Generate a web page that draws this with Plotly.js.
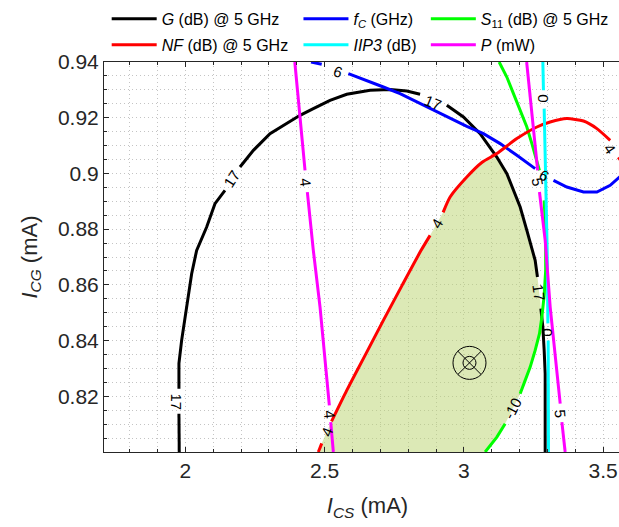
<!DOCTYPE html>
<html><head><meta charset="utf-8">
<script src="https://cdn.plot.ly/plotly-3.0.1.min.js"></script>
<style>html,body{margin:0;padding:0;overflow:hidden;background:#fff}</style>
</head><body><div id="chart" style="width:640px;height:527px"></div>
<script>
// Contour traces (x = I_CS mA, y = I_CG mA); null = gap for inline label
const gX = [1.9777,1.9766,null,1.9766,1.9766,1.9863,2.0043,2.0223,2.0402,2.0762,2.1060,2.1419,null,2.1958,2.2440,2.3036,2.3636,2.4114,2.4592,2.5192,2.5792,2.6630,2.7348,2.7948,2.8426,null,2.9386,2.9982,3.0582,3.1182,3.1542,3.1779,3.2020,3.2260,3.2440,3.2558,3.2641,null,3.2763,3.2835,3.2882,3.2918,3.2918];
const gY = [0.80,0.81375,null,0.82273,0.83181,0.84007,0.85203,0.86402,0.87239,0.88075,0.88916,0.89393,null,0.9023,0.90829,0.91429,0.91788,0.92086,0.92327,0.92625,0.9284,0.92984,0.93009,0.92959,0.9284,null,0.92445,0.92025,0.91429,0.90589,0.89993,0.89393,0.88793,0.87957,0.87239,0.8688,0.8628,null,0.85145,0.84485,0.83648,0.82811,0.80];

const fcX = [2.4510,2.4894,null,2.5850,2.6511,2.7107,2.7707,2.8308,2.8904,2.9504,3.0104,3.0701,3.1301,3.1901,3.2558,null,3.3216,3.3697,3.4294,3.4775,3.5253,3.5577,3.5972];
const fcY = [0.94,0.93917,null,0.93583,0.93343,0.93102,0.92865,0.92564,0.92266,0.91968,0.91691,0.91429,0.9107,0.9065,0.90172,null,0.89752,0.89512,0.89332,0.89332,0.89573,0.89871,0.90219];

const s11X = [3.1265,3.1541,3.1779,3.2019,3.2260,3.2440,3.2620,3.2713,null,3.2882,3.2936,3.2936,3.2882,3.2799,3.2713,3.2558,3.2379,3.2199,3.2019,null,3.1480,3.1182,3.0762];
const s11Y = [0.94,0.93461,0.92865,0.92266,0.91666,0.9107,0.9047,0.90111,null,0.89034,0.87957,0.8652,0.85623,0.84844,0.84248,0.83648,0.83048,0.82571,0.82093,null,0.81016,0.80535,0.80];

const nfX = [2.4772,2.4894,null,2.5246,2.5792,2.6450,2.7107,2.7779,2.8462,2.8785,null,2.9253,2.9504,3.0104,3.0654,3.1182,3.1901,3.2620,3.3097,3.3697,3.4294,3.4775,3.5253,null,3.5541,3.5972];
const nfY = [0.80,0.80309,null,0.81099,0.82212,0.83468,0.84725,0.85982,0.87239,0.87777,null,0.88603,0.89153,0.89871,0.90399,0.90711,0.9125,0.91666,0.91846,0.91968,0.91881,0.91609,0.91188,null,0.90578,0.90039];

const iipX = [3.2835,3.2856,null,3.2882,3.2918,3.2954,3.2990,3.3015,null,3.3026,3.3036];
const iipY = [0.94,0.92984,null,0.92327,0.90829,0.89034,0.87239,0.84617,null,0.84007,0.80];

const p4X = [2.3927,2.4114,2.4233,2.4294,null,2.4377,2.4592,2.4833,2.5013,2.5167,null,2.5217,2.5311];
const p4Y = [0.94,0.92025,0.90829,0.90111,null,0.89332,0.87239,0.85203,0.83407,0.81673,null,0.81073,0.80];
const p5X = [3.2253,3.2440,3.2558,3.2648,null,3.2713,3.2857,3.2918,3.3098,3.3277,3.3457,null,3.3518,3.3636];
const p5Y = [0.94,0.92025,0.90829,0.90111,null,0.89332,0.88197,0.87598,0.85203,0.83407,0.81734,null,0.81073,0.80];

// feasible (shaded) region
const shadeX = [2.4772,2.4894,2.5066,2.5246,2.5792,2.6450,2.7107,2.7779,2.8462,2.8785,2.9026,2.9253,2.9504,3.0104,3.0654,3.1121,3.1542,3.1779,3.2020,3.2260,3.2440,3.2558,3.2641,3.2705,3.2763,3.2790,3.2713,3.2558,3.2379,3.2199,3.2019,3.1750,3.1480,3.1182,3.0762];
const shadeY = [0.80,0.80309,0.80704,0.81099,0.82212,0.83468,0.84725,0.85982,0.87239,0.87777,0.88197,0.88603,0.89153,0.89871,0.90399,0.90686,0.89993,0.89393,0.88793,0.87957,0.87239,0.8688,0.8628,0.8571,0.85145,0.8485,0.84248,0.83648,0.83048,0.82571,0.82093,0.81555,0.81016,0.80535,0.80];

// chosen operating point
const optX = [3.02];
const optY = [0.832];

// contour labels
const labelText = ['17','17','17','17','6','6','4','4','4','4','4','0','0','5','5','-10'];
const labelX = [1.9684,2.166,2.8893,3.2684,2.5469,3.2884,2.4330,2.5167,2.5066,2.9026,3.5240,3.2856,3.3015,3.2648,3.3457,3.1750];
const labelY = [0.81792,0.89824,0.92564,0.85713,0.93677,0.89932,0.89691,0.81339,0.80704,0.88197,0.90900,0.92686,0.84305,0.89716,0.81375,0.81555];
const labelAngle = [90,-57,22,82,19,30,84,85,-68,-59,55,90,90,80,85,-63];

const yTickVals = [0.82,0.84,0.86,0.88,0.9,0.92,0.94];
const yTickText = ['0.82','0.84','0.86','0.88','0.9','0.92','0.94'];
const xTickVals = [2,2.5,3,3.5];
const xTickText = ['2','2.5','3','3.5'];

const FONT = 'Liberation Sans, Arial, Helvetica, sans-serif';
const LW = 3;

const traces = [
  {x: shadeX, y: shadeY, mode: 'lines', fill: 'toself', fillcolor: 'rgba(186,212,110,0.5)', line: {width: 0, shape: 'spline', smoothing: 0.5}, showlegend: false, hoverinfo: 'skip'},
  {x: gX, y: gY, mode: 'lines', name: '<i>G</i> (dB) @ 5 GHz', line: {color: '#000000', width: LW}, legend: 'legend', legendgroup: 'g'},
  {x: fcX, y: fcY, mode: 'lines', name: '<i>f</i><sub><i>C</i></sub> (GHz)', line: {color: '#0000ff', width: LW}, legend: 'legend2', legendgroup: 'fc'},
  {x: s11X, y: s11Y, mode: 'lines', name: '<i>S</i><sub>11</sub> (dB) @ 5 GHz', line: {color: '#00ff00', width: LW}, legend: 'legend3', legendgroup: 's11'},
  {x: nfX, y: nfY, mode: 'lines', name: '<i>NF</i> (dB) @ 5 GHz', line: {color: '#ff0000', width: LW, shape: 'spline', smoothing: 0.6}, legend: 'legend', legendgroup: 'nf'},
  {x: iipX, y: iipY, mode: 'lines', name: '<i>IIP3</i> (dB)', line: {color: '#00ffff', width: LW}, legend: 'legend2', legendgroup: 'iip'},
  {x: p4X, y: p4Y, mode: 'lines', name: '<i>P</i> (mW)', line: {color: '#ff00ff', width: LW}, legend: 'legend3', legendgroup: 'p'},
  {x: p5X, y: p5Y, mode: 'lines', name: '<i>P</i> (mW)', line: {color: '#ff00ff', width: LW}, showlegend: false, legendgroup: 'p'},
  {x: optX, y: optY, mode: 'markers', showlegend: false, marker: {symbol: 'circle-x-open', size: 33, color: '#000', line: {width: 1, color: '#000'}}},
  {x: optX, y: optY, mode: 'markers', showlegend: false, marker: {symbol: 'circle-open', size: 13, color: '#000', line: {width: 1, color: '#000'}}}
];

const annotations = labelText.map((t, i) => ({
  x: labelX[i], y: labelY[i], xref: 'x', yref: 'y', text: t, showarrow: false,
  textangle: labelAngle[i], font: {family: FONT, size: 15, color: '#000'}
}));

const gridDash = '1px,3px';
const gridColor = '#c4c4c4';
const axisCommon = {
  ticks: 'inside', ticklen: 5, tickwidth: 1, tickcolor: '#262626',
  showline: true, linecolor: '#262626', linewidth: 1, mirror: 'ticks',
  showgrid: true, gridcolor: gridColor, griddash: gridDash, gridwidth: 1,
  zeroline: false, tickfont: {family: FONT, size: 21, color: '#262626'}
};

const legendCommon = {
  orientation: 'v', xanchor: 'left', yanchor: 'top', y: 1.154,
  bgcolor: 'rgba(0,0,0,0)', borderwidth: 0, itemwidth: 45, tracegroupgap: 2,
  font: {family: FONT, size: 16, color: '#000'}
};

const layout = {
  width: 640, height: 527,
  margin: {l: 104, r: 9, t: 62, b: 75, autoexpand: false},
  paper_bgcolor: '#fff', plot_bgcolor: '#fff',
  font: {family: FONT, color: '#262626'},
  showlegend: true,
  xaxis: Object.assign({}, axisCommon, {
    range: [1.7075, 3.6], tickmode: 'array', tickvals: xTickVals, ticktext: xTickText,
    minor: {tickmode: 'linear', tick0: 0, dtick: 0.1, showgrid: true, gridcolor: gridColor, griddash: gridDash, ticks: 'inside', ticklen: 3, tickcolor: '#262626'},
    title: {text: '<i>I</i><sub><i>CS</i></sub> (mA)', font: {family: FONT, size: 22, color: '#262626'}, standoff: 16}
  }),
  yaxis: Object.assign({}, axisCommon, {
    range: [0.80, 0.94], tickmode: 'array', tickvals: yTickVals, ticktext: yTickText,
    minor: {tickmode: 'linear', tick0: 0, dtick: 0.005, showgrid: true, gridcolor: gridColor, griddash: gridDash, ticks: 'inside', ticklen: 3, tickcolor: '#262626'},
    title: {text: '<i>I</i><sub><i>CG</i></sub> (mA)', font: {family: FONT, size: 22, color: '#262626'}, standoff: 14}
  }),
  legend: Object.assign({}, legendCommon, {x: 0.0051}),
  legend2: Object.assign({}, legendCommon, {x: 0.369}),
  legend3: Object.assign({}, legendCommon, {x: 0.6107}),
  annotations: annotations
};

Plotly.newPlot('chart', traces, layout, {displayModeBar: false, responsive: false});
</script>
</body></html>
